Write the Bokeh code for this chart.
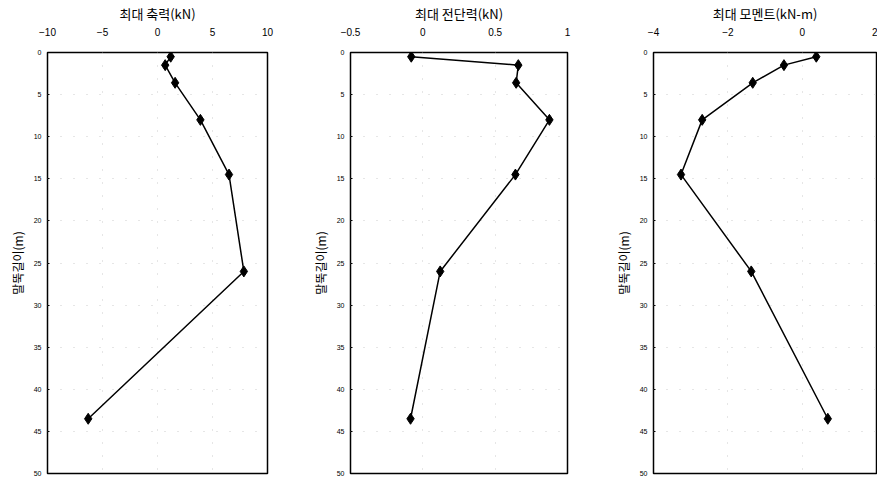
from bokeh.plotting import figure
from bokeh.layouts import row
from bokeh.models import Range1d, FixedTicker
from bokeh.embed import file_html
from bokeh.resources import INLINE

depth = [0.5, 1.5, 3.6, 8.0, 14.5, 26.0, 43.5]
axial = [1.2, 0.7, 1.6, 3.9, 6.5, 7.85, -6.3]
shear = [-0.08, 0.66, 0.645, 0.875, 0.64, 0.12, -0.085]
moment = [0.38, -0.49, -1.33, -2.69, -3.26, -1.37, 0.69]

titles = ["최대 축력(kN)", "최대 전단력(kN)", "최대 모멘트(kN-m)"]
xranges = [(-10, 10), (-0.5, 1), (-4, 2)]
xticks = [[-10, -5, 0, 5, 10], [-0.5, 0, 0.5, 1], [-4, -2, 0, 2]]
yticks = [0, 5, 10, 15, 20, 25, 30, 35, 40, 45, 50]
ylabel = "말뚝길이(m)"

series = [axial, shear, moment]
widths = [300, 300, 277]
borders_l = [47, 50, 53]
borders_r = [33, 33, 1]

KFONT = "Noto Sans CJK KR"
NFONT = "Liberation Sans"

figs = []
for i in range(3):
    p = figure(width=widths[i], height=477, output_backend="svg", toolbar_location=None,
               x_range=Range1d(*xranges[i]), y_range=Range1d(50, 0),
               x_axis_location="above",
               min_border_left=borders_l[i], min_border_right=borders_r[i],
               min_border_top=52, min_border_bottom=4)
    p.outline_line_color = "black"
    p.outline_line_width = 1.5
    p.line(series[i], depth, line_color="black", line_width=1.5)
    p.scatter(series[i], depth, marker="diamond", size=11, fill_color="black", line_color="black")

    xa = p.xaxis[0]
    xa.ticker = FixedTicker(ticks=xticks[i])
    xa.axis_label = titles[i]
    xa.axis_label_text_font = KFONT
    xa.axis_label_text_font_size = "13px"
    xa.axis_label_text_font_style = "normal"
    xa.axis_label_text_color = "black"
    xa.axis_label_standoff = 2
    xa.major_label_text_font = NFONT
    xa.major_label_text_font_size = "10px"
    xa.major_label_text_color = "black"
    xa.major_label_standoff = 17
    xa.major_tick_out = 0
    xa.major_tick_in = 0
    xa.minor_tick_out = 0
    xa.minor_tick_in = 0
    xa.axis_line_color = None

    ya = p.yaxis[0]
    ya.ticker = FixedTicker(ticks=yticks)
    ya.axis_label = ylabel
    ya.axis_label_text_font = KFONT
    ya.axis_label_text_font_size = "12px"
    ya.axis_label_text_font_style = "normal"
    ya.axis_label_text_color = "black"
    ya.axis_label_standoff = 5
    ya.major_label_text_font = NFONT
    ya.major_label_text_font_size = "7px"
    ya.major_label_text_color = "black"
    ya.major_label_standoff = 6
    ya.major_tick_out = 0
    ya.major_tick_in = 2
    ya.minor_tick_out = 0
    ya.minor_tick_in = 0
    ya.axis_line_color = None

    p.xgrid.grid_line_color = "#cccccc"
    p.ygrid.grid_line_color = "#cccccc"
    p.xgrid.grid_line_dash = "1 12"
    p.ygrid.grid_line_dash = "1 12"
    figs.append(p)

layout = row(*figs)
open("out.html", "w").write(file_html(layout, INLINE))
